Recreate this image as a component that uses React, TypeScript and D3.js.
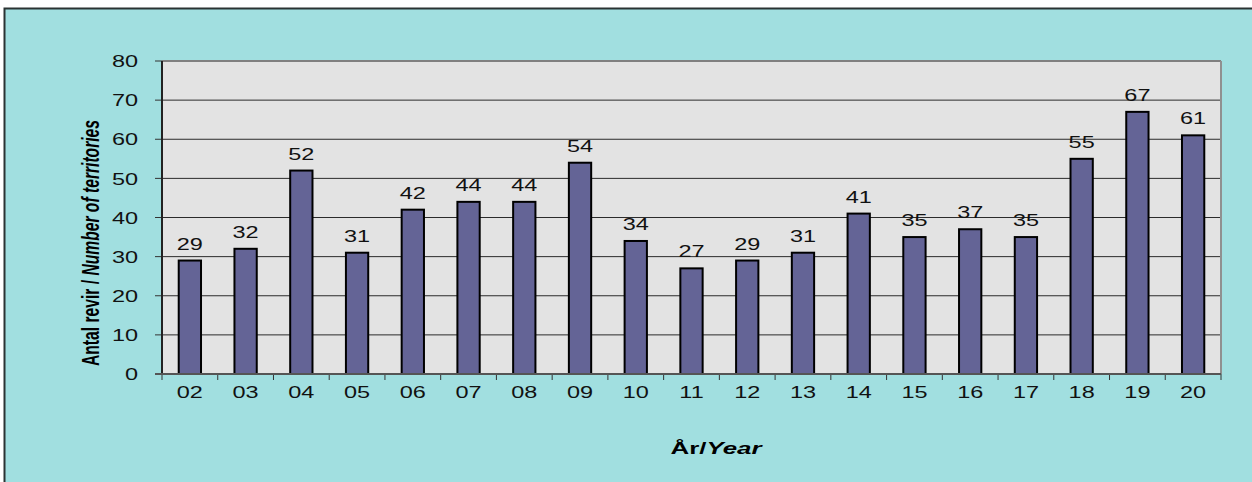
import React from "react";
import * as d3 from "d3";

const years = ["02","03","04","05","06","07","08","09","10","11","12","13","14","15","16","17","18","19","20"];
const territories = [29,32,52,31,42,44,44,54,34,27,29,31,41,35,37,35,55,67,61];
const yTicks = [0,10,20,30,40,50,60,70,80];

const W = 1252, H = 482;
const plot = { left: 162, right: 1221, top: 61, bottom: 374 };
const SX = 1.38;

function WideText({ x, y, anchor, children, dy }: { x: number; y: number; anchor: string; children: React.ReactNode; dy?: string }) {
  return (
    <g transform={`translate(${x},${y}) scale(${SX},1)`}>
      <text x={0} y={0} dy={dy} textAnchor={anchor} fontSize={17} fill="#111">{children}</text>
    </g>
  );
}

export default function App() {
  const x = d3.scaleBand<string>().domain(years).range([plot.left, plot.right]).paddingInner(0.6).paddingOuter(0.3);
  const band = d3.scaleBand<string>().domain(years).range([plot.left, plot.right]).padding(0);
  const y = d3.scaleLinear().domain([0, 80]).range([plot.bottom, plot.top]);
  const font = "'Liberation Sans', Arial, sans-serif";
  return (
    <svg width={W} height={H} style={{ position: "absolute", left: 0, top: 0, display: "block" }} fontFamily={font}>
      <rect x={0} y={0} width={W} height={H} fill="#ffffff" />
      <rect x={4.5} y={8.5} width={W + 10} height={H + 10} fill="#a1dfe0" stroke="#2a3333" strokeWidth={2} />
      <rect x={plot.left} y={plot.top} width={plot.right - plot.left} height={plot.bottom - plot.top} fill="#e3e3e3" />
      {yTicks.map((t) => (
        <g key={t}>
          {t > 0 && (
            <line x1={plot.left} x2={plot.right} y1={y(t)} y2={y(t)} stroke={t === 80 ? "#808080" : "#2b2b2b"} strokeWidth={t === 80 ? 2 : 1} />
          )}
          <line x1={plot.left - 7} x2={plot.left} y1={y(t)} y2={y(t)} stroke="#333" strokeWidth={1} />
          <WideText x={138} y={y(t)} dy="0.36em" anchor="end">{t}</WideText>
        </g>
      ))}
      <line x1={plot.right} x2={plot.right} y1={plot.top} y2={plot.bottom} stroke="#909090" strokeWidth={2} />
      {years.map((yr, i) => (
        <g key={yr}>
          <rect x={x(yr)!} y={y(territories[i])} width={x.bandwidth()} height={plot.bottom - y(territories[i])} fill="#646496" stroke="#000" strokeWidth={2} />
          <WideText x={x(yr)! + x.bandwidth() / 2} y={y(territories[i]) - 11} anchor="middle">{territories[i]}</WideText>
          <WideText x={band(yr)! + band.bandwidth() / 2} y={398} anchor="middle">{yr}</WideText>
          <line x1={band(yr)!} x2={band(yr)!} y1={plot.bottom} y2={plot.bottom + 6} stroke="#333" strokeWidth={1} />
        </g>
      ))}
      <line x1={plot.right} x2={plot.right} y1={plot.bottom} y2={plot.bottom + 6} stroke="#333" strokeWidth={1} />
      <line x1={plot.left} x2={plot.left} y1={plot.top} y2={plot.bottom} stroke="#222" strokeWidth={2} />
      <line x1={plot.left - 7} x2={plot.right} y1={plot.bottom} y2={plot.bottom} stroke="#555" strokeWidth={2} />
      <text transform="translate(99,243) rotate(-90)" textAnchor="middle" fontSize={23} fontWeight="bold" fill="#000" textLength={246} lengthAdjust="spacingAndGlyphs">
        Antal revir / <tspan fontStyle="italic">Number of territories</tspan>
      </text>
      <text x={716} y={454} textAnchor="middle" fontSize={16} fontWeight="bold" fill="#000" textLength={91} lengthAdjust="spacingAndGlyphs">
        År/<tspan fontStyle="italic">Year</tspan>
      </text>
    </svg>
  );
}
